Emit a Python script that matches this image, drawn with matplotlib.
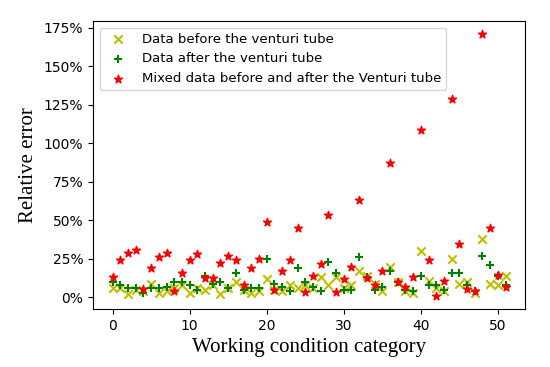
import matplotlib
matplotlib.use("Agg")
import matplotlib.pyplot as plt
from matplotlib.ticker import PercentFormatter, MultipleLocator

# relative error (%) per working condition category 0..51
idx = list(range(52))

before = [6, 6, 2, 5, 4, 9, 3, 4, 6, 8, 3, 6, 5, 8, 2, 6, 10, 5, 3, 4,
          12, 5, 4, 8, 6, 8, 6, 13, 8, 13, 6, 8, 17, 14, 9, 4, 20, 10, 4, 3,
          30, 11, 6, 4, 25, 9, 10, 3, 38, 9, 8, 14]

after = [10, 8, 6, 6, 3, 6, 6, 7, 10, 10, 8, 5, 14, 9, 10, 6, 16, 5, 6, 6,
         25, 9, 7, 4, 19, 10, 7, 4, 23, 16, 5, 5, 26, 13, 5, 7, 17, 10, 5, 4,
         14, 8, 8, 5, 16, 16, 8, 4, 27, 21, 14, 8]

mixed = [13, 24, 29, 31, 5.5, 19, 26, 29, 4, 16, 24, 28.5, 12.5, 12.5, 22.5, 27, 24, 8, 19, 25,
         49, 5, 17, 24, 45, 3.5, 14, 21.5, 53.5, 3.5, 12, 19.5, 63, 12.5, 8, 17, 87, 10, 6.5, 13,
         108.5, 24, 1, 11, 128.5, 34.5, 5.5, 4.5, 171, 45, 14.5, 7]

fig = plt.figure(figsize=(5.5, 3.67), dpi=100)
ax = fig.add_axes([0.169, 0.158, 0.786, 0.785])

ax.scatter(idx, before, marker='x', c='y', label='Data before the venturi tube')
ax.scatter(idx, after, marker='+', c='g', label='Data after the venturi tube')
ax.scatter(idx, mixed, marker='*', c='r', label='Mixed data before and after the Venturi tube')

ax.yaxis.set_major_locator(MultipleLocator(25))
ax.yaxis.set_major_formatter(PercentFormatter(100, decimals=0))
ax.xaxis.set_major_locator(MultipleLocator(10))

ax.set_xlabel('Working condition category', fontsize=15, family='Liberation Serif')
ax.set_ylabel('Relative error', fontsize=15, family='Liberation Serif')
ax.legend(loc='upper left', fontsize=9.5)

fig.savefig('out.png')
